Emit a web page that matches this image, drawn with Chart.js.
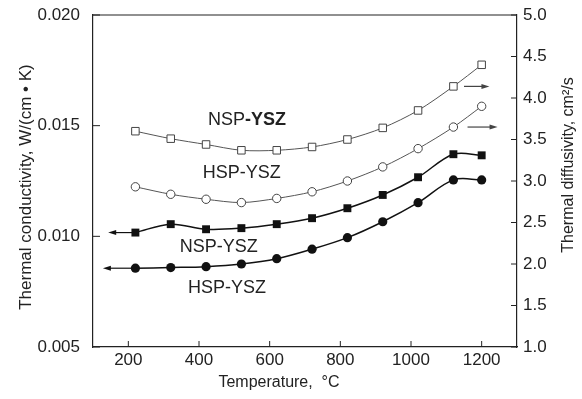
<!DOCTYPE html>
<html lang="en">
<head>
<meta charset="UTF-8">
<title>Thermal conductivity and diffusivity vs temperature</title>
<script src="https://cdn.jsdelivr.net/npm/chart.js"></script>
<style>
  html, body { margin: 0; padding: 0; background: #fff; }
  #wrap { width: 582px; height: 399px; position: relative; }
</style>
</head>
<body>
<div id="wrap"><canvas id="grafic"></canvas></div>
<script>
// temperatures (C)
const temperatures = [220, 320, 420, 520, 620, 720, 820, 920, 1020, 1120, 1200];

// thermal diffusivity, cm2/s (right axis, open symbols)
const nspDiffusivity = [3.60, 3.51, 3.44, 3.37, 3.37, 3.41, 3.50, 3.64, 3.85, 4.14, 4.40];
const hspDiffusivity = [2.93, 2.84, 2.78, 2.74, 2.79, 2.87, 3.00, 3.17, 3.39, 3.65, 3.90];

// thermal conductivity, W/(cm K) (left axis, filled symbols)
const nspConductivity = [0.01017, 0.01055, 0.01032, 0.01037, 0.01055, 0.01082, 0.01127, 0.01187, 0.01267, 0.01371, 0.01366];
const hspConductivity = [0.00856, 0.00859, 0.00863, 0.00875, 0.00899, 0.00942, 0.00994, 0.01066, 0.01152, 0.01255, 0.01255];

// tick labels
const xTicks = [200, 400, 600, 800, 1000, 1200];
const leftTicks = [0.005, 0.010, 0.015, 0.020];
const rightTicks = [1.0, 1.5, 2.0, 2.5, 3.0, 3.5, 4.0, 4.5, 5.0];

const FONT = "'Liberation Sans', Arial, sans-serif";
const INK = '#222';

function pts(ys) {
    return temperatures.map((t, i) => ({ x: t, y: ys[i] }));
}

// arrows telling which axis each curve belongs to (start at a data point, end at a temperature)
const arrows = [
    { axis: 'y', data: nspConductivity, index: 0, fromX: 220, toX: 143 },
    { axis: 'y', data: hspConductivity, index: 0, fromX: 220, toX: 128 },
    { axis: 'y1', data: nspDiffusivity, index: 9, fromX: 1150, toX: 1222 },
    { axis: 'y1', data: hspDiffusivity, index: 9, fromX: 1160, toX: 1245 }
];

// curve labels (temperature, value on the left axis)
const curveLabels = [
    { parts: [['NSP', 'normal'], ['-YSZ', 'bold']], x: 536, y: 0.01526 },
    { parts: [['HSP-YSZ', 'normal']], x: 521, y: 0.01286 },
    { parts: [['NSP-YSZ', 'normal']], x: 456, y: 0.00952 },
    { parts: [['HSP-YSZ', 'normal']], x: 479, y: 0.00767 }
];

const decor = {
    id: 'decor',
    beforeDatasetsDraw(chart) {
        const { ctx, chartArea: a, scales } = chart;
        ctx.save();
        ctx.strokeStyle = INK;
        ctx.lineWidth = 1.2;
        // top frame line
        ctx.beginPath();
        ctx.moveTo(a.left, a.top);
        ctx.lineTo(a.right, a.top);
        ctx.stroke();
        // inward ticks
        ctx.lineWidth = 1;
        xTicks.forEach(v => {
            const p = scales.x.getPixelForValue(v);
            ctx.beginPath(); ctx.moveTo(p, a.bottom); ctx.lineTo(p, a.bottom - 6); ctx.stroke();
        });
        leftTicks.forEach(v => {
            const p = scales.y.getPixelForValue(v);
            ctx.beginPath(); ctx.moveTo(a.left, p); ctx.lineTo(a.left + 7, p); ctx.stroke();
        });
        rightTicks.forEach(v => {
            const p = scales.y1.getPixelForValue(v);
            ctx.beginPath(); ctx.moveTo(a.right, p); ctx.lineTo(a.right - 6, p); ctx.stroke();
        });
        // arrows
        arrows.forEach(ar => {
            const yPx = scales[ar.axis].getPixelForValue(ar.data[ar.index]);
            const x1 = scales.x.getPixelForValue(ar.fromX);
            const x2 = scales.x.getPixelForValue(ar.toX);
            const dir = Math.sign(x2 - x1);
            ctx.strokeStyle = ar.axis === 'y' ? '#111' : '#444';
            ctx.fillStyle = ctx.strokeStyle;
            ctx.lineWidth = 1.2;
            ctx.beginPath(); ctx.moveTo(x1, yPx); ctx.lineTo(x2 - dir * 5, yPx); ctx.stroke();
            ctx.beginPath();
            ctx.moveTo(x2, yPx);
            ctx.lineTo(x2 - dir * 8, yPx - 2.5);
            ctx.lineTo(x2 - dir * 8, yPx + 2.5);
            ctx.closePath();
            ctx.fill();
        });
        ctx.restore();
    },
    afterDraw(chart) {
        const { ctx, scales } = chart;
        ctx.save();
        ctx.fillStyle = INK;
        ctx.textBaseline = 'middle';
        // curve labels
        curveLabels.forEach(l => {
            const cx = scales.x.getPixelForValue(l.x);
            const cy = scales.y.getPixelForValue(l.y);
            let total = 0;
            l.parts.forEach(([t, w]) => { ctx.font = w + ' 18px ' + FONT; total += ctx.measureText(t).width; });
            let x = cx - total / 2;
            ctx.textAlign = 'left';
            l.parts.forEach(([t, w]) => {
                ctx.font = w + ' 18px ' + FONT;
                ctx.fillText(t, x, cy);
                x += ctx.measureText(t).width;
            });
        });
        // axis titles
        ctx.textAlign = 'center';
        ctx.font = '17px ' + FONT;
        ctx.save();
        ctx.translate(26, 187);
        ctx.rotate(-Math.PI / 2);
        ctx.fillText('Thermal conductivity, W/(cm \u2022 K)', 0, 0);
        ctx.restore();

        ctx.font = '16px ' + FONT;
        ctx.save();
        ctx.translate(569, 165);
        ctx.rotate(-Math.PI / 2);
        ctx.fillText('Thermal diffusivity, cm\u00B2/s', 0, 0);
        ctx.restore();

        ctx.fillText('Temperature,  \u00B0C', 279, 383);
        ctx.restore();
    }
};

// keep the plot frame where the original has it
function fixVertical(width) {
    return s => { s.width = width; s.paddingTop = 0; s.paddingBottom = 0; };
}

const ctx = document.getElementById('grafic').getContext('2d');
const chart = new Chart(ctx, {
    type: 'line',
    data: {
        datasets: [
            {
                label: 'NSP-YSZ diffusivity',
                data: pts(nspDiffusivity),
                yAxisID: 'y1',
                borderColor: '#555',
                borderWidth: 1,
                pointStyle: 'rect',
                pointRadius: 5.3,
                pointBackgroundColor: '#fff',
                pointBorderColor: '#444',
                pointBorderWidth: 1,
                tension: 0.3
            },
            {
                label: 'HSP-YSZ diffusivity',
                data: pts(hspDiffusivity),
                yAxisID: 'y1',
                borderColor: '#555',
                borderWidth: 1,
                pointStyle: 'circle',
                pointRadius: 4.2,
                pointBackgroundColor: '#fff',
                pointBorderColor: '#444',
                pointBorderWidth: 1,
                tension: 0.3
            },
            {
                label: 'NSP-YSZ conductivity',
                data: pts(nspConductivity),
                yAxisID: 'y',
                borderColor: '#111',
                borderWidth: 1.5,
                pointStyle: 'rect',
                pointRadius: 5.6,
                pointBackgroundColor: '#111',
                pointBorderColor: '#111',
                pointBorderWidth: 0,
                tension: 0.35
            },
            {
                label: 'HSP-YSZ conductivity',
                data: pts(hspConductivity),
                yAxisID: 'y',
                borderColor: '#111',
                borderWidth: 1.5,
                pointStyle: 'circle',
                pointRadius: 4.6,
                pointBackgroundColor: '#111',
                pointBorderColor: '#111',
                pointBorderWidth: 0,
                tension: 0.35
            }
        ]
    },
    options: {
        responsive: true,
        maintainAspectRatio: false,
        animation: false,
        layout: { padding: { top: 15, left: 0, right: 0, bottom: 0 } },
        plugins: {
            legend: { display: false },
            tooltip: { enabled: false }
        },
        scales: {
            x: {
                type: 'linear',
                min: 100,
                max: 1300,
                afterBuildTicks: s => { s.ticks = xTicks.map(v => ({ value: v })); },
                afterFit: s => { s.height = 52; s.paddingLeft = 0; s.paddingRight = 0; },
                grid: { display: true, drawOnChartArea: false, drawTicks: false },
                border: { display: true, color: INK, width: 1.2 },
                ticks: { color: INK, padding: 3, font: { family: FONT, size: 17 }, maxRotation: 0, callback: v => String(v) }
            },
            y: {
                position: 'left',
                min: 0.005,
                max: 0.020,
                afterBuildTicks: s => { s.ticks = leftTicks.map(v => ({ value: v })); },
                afterFit: fixVertical(93),
                grid: { display: true, drawOnChartArea: false, drawTicks: false },
                border: { display: true, color: INK, width: 1.2 },
                ticks: { color: INK, padding: 13, font: { family: FONT, size: 17 }, callback: v => v.toFixed(3) }
            },
            y1: {
                position: 'right',
                min: 1.0,
                max: 5.0,
                afterBuildTicks: s => { s.ticks = rightTicks.map(v => ({ value: v })); },
                afterFit: fixVertical(65),
                grid: { display: true, drawOnChartArea: false, drawTicks: false },
                border: { display: true, color: INK, width: 1.2 },
                ticks: { color: INK, padding: 6, font: { family: FONT, size: 17 }, callback: v => v.toFixed(1) }
            }
        }
    },
    plugins: [decor]
});
</script>
</body>
</html>
